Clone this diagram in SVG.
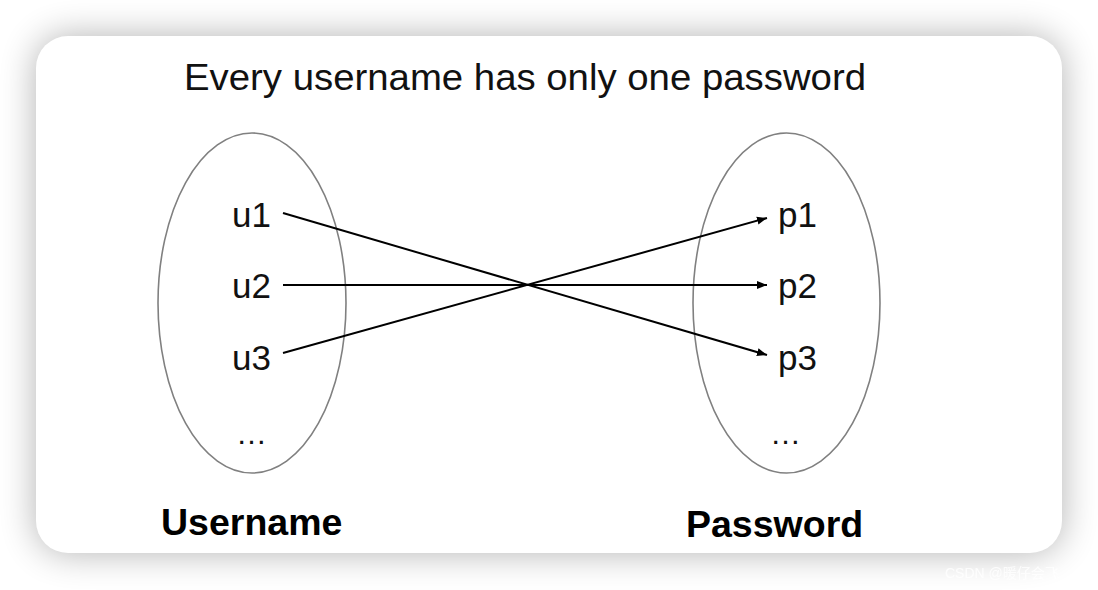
<svg xmlns="http://www.w3.org/2000/svg" width="1098" height="590" viewBox="0 0 1098 590">
  <defs>
    <filter id="sh" x="-10%" y="-15%" width="120%" height="130%">
      <feGaussianBlur stdDeviation="18"/>
    </filter>
    <marker id="arr" viewBox="0 0 10 10" refX="10" refY="5" markerWidth="10" markerHeight="10" markerUnits="userSpaceOnUse" orient="auto">
      <path d="M0,1 L10,5 L0,9 Z" fill="#000"/>
    </marker>
  </defs>
  <style>
    .set { fill: none; stroke: #808080; stroke-width: 1.6; }
    .item { font-family: "Liberation Sans", Arial, sans-serif; font-size: 35px; fill: #111; }
    .dots { font-family: "Liberation Sans", Arial, sans-serif; font-size: 31px; fill: #111; }
    .title { font-family: "Liberation Sans", Arial, sans-serif; font-size: 36px; fill: #111; }
    .label { font-family: "Liberation Sans", Arial, sans-serif; font-size: 37.5px; font-weight: bold; fill: #000; }
    .conn { stroke: #000; stroke-width: 2; fill: none; marker-end: url(#arr); }
  </style>
  <rect x="0" y="0" width="1098" height="590" fill="#ffffff"/>
  <rect x="36" y="36" width="1026" height="517" rx="32" fill="#000" opacity="0.3" filter="url(#sh)"/>
  <rect x="36" y="36" width="1026" height="517" rx="32" fill="#ffffff"/>
  <text class="title" x="184" y="90" textLength="682" lengthAdjust="spacingAndGlyphs">Every username has only one password</text>
  <g id="username-set">
    <ellipse class="set" cx="252" cy="303" rx="94" ry="170"/>
    <text class="label" x="161" y="535">Username</text>
  </g>
  <g id="u1"><text class="item" x="232" y="227">u1</text></g>
  <g id="u2"><text class="item" x="232" y="298">u2</text></g>
  <g id="u3"><text class="item" x="232" y="370">u3</text></g>
  <g id="u-more"><text class="dots" x="236" y="444">…</text></g>
  <g id="password-set">
    <ellipse class="set" cx="786.5" cy="303" rx="93.5" ry="170"/>
    <text class="label" x="686" y="537">Password</text>
  </g>
  <g id="p1"><text class="item" x="778" y="227">p1</text></g>
  <g id="p2"><text class="item" x="778" y="298">p2</text></g>
  <g id="p3"><text class="item" x="778" y="370">p3</text></g>
  <g id="p-more"><text class="dots" x="770" y="444">…</text></g>
  <g id="connectors">
    <line class="conn" x1="283" y1="213" x2="767" y2="355"/>
    <line class="conn" x1="283" y1="285" x2="767" y2="285"/>
    <line class="conn" x1="283" y1="353" x2="767" y2="218"/>
  </g>
  <text x="945" y="578" font-family="Liberation Sans, 'Noto Sans CJK SC', sans-serif" font-size="14" fill="#ffffff" opacity="0.85">CSDN @暖仔会飞</text>
</svg>
